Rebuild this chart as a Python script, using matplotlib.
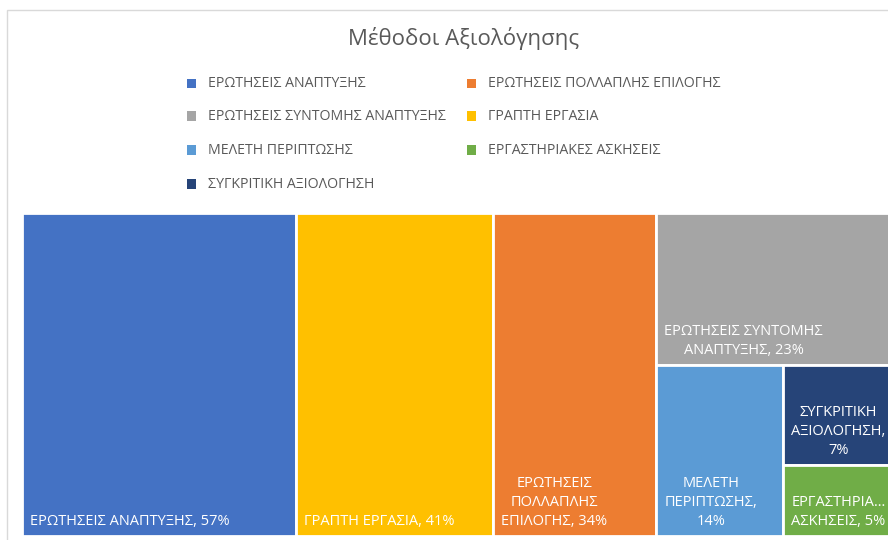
import matplotlib
matplotlib.use("Agg")
import matplotlib.pyplot as plt
from matplotlib.patches import Rectangle

categories = [
    "ΕΡΩΤΗΣΕΙΣ ΑΝΑΠΤΥΞΗΣ",
    "ΓΡΑΠΤΗ ΕΡΓΑΣΙΑ",
    "ΕΡΩΤΗΣΕΙΣ ΠΟΛΛΑΠΛΗΣ ΕΠΙΛΟΓΗΣ",
    "ΕΡΩΤΗΣΕΙΣ ΣΥΝΤΟΜΗΣ ΑΝΑΠΤΥΞΗΣ",
    "ΜΕΛΕΤΗ ΠΕΡΙΠΤΩΣΗΣ",
    "ΣΥΓΚΡΙΤΙΚΗ ΑΞΙΟΛΟΓΗΣΗ",
    "ΕΡΓΑΣΤΗΡΙΑΚΕΣ ΑΣΚΗΣΕΙΣ",
]
values = [57, 41, 34, 23, 14, 7, 5]
colors = ["#4472C4", "#FFC000", "#ED7D31", "#A5A5A5", "#5B9BD5", "#264478", "#70AD47"]
box_labels = [
    "ΕΡΩΤΗΣΕΙΣ ΑΝΑΠΤΥΞΗΣ, 57%",
    "ΓΡΑΠΤΗ ΕΡΓΑΣΙΑ, 41%",
    "ΕΡΩΤΗΣΕΙΣ\nΠΟΛΛΑΠΛΗΣ\nΕΠΙΛΟΓΗΣ, 34%",
    "ΕΡΩΤΗΣΕΙΣ ΣΥΝΤΟΜΗΣ\nΑΝΑΠΤΥΞΗΣ, 23%",
    "ΜΕΛΕΤΗ\nΠΕΡΙΠΤΩΣΗΣ,\n14%",
    "ΣΥΓΚΡΙΤΙΚΗ\nΑΞΙΟΛΟΓΗΣΗ,\n7%",
    "ΕΡΓΑΣΤΗΡΙΑ…\nΑΣΚΗΣΕΙΣ, 5%",
]
legend_order = [0, 2, 3, 1, 4, 6, 5]  # legend shown row-major in 2 columns
title = "Μέθοδοι Αξιολόγησης"

FONT = ["Open Sans", "DejaVu Sans"]


def worst(row, short):
    s = sum(row)
    return max(short * short * max(row) / (s * s), s * s / (short * short * min(row)))


def squarify(vals, x, y, w, h):
    total = sum(vals)
    areas = [v * w * h / total for v in vals]
    out = []
    while areas:
        short = min(w, h)
        row = [areas[0]]
        i = 1
        while i < len(areas) and worst(row + [areas[i]], short) <= worst(row, short):
            row.append(areas[i])
            i += 1
        s = sum(row)
        if w >= h:
            cw = s / h
            yy = y
            for a in row:
                rh = a / cw
                out.append((x, yy, cw, rh))
                yy += rh
            x += cw
            w -= cw
        else:
            rh = s / w
            xx = x
            for a in row:
                rw = a / rh
                out.append((xx, y, rw, rh))
                xx += rw
            y += rh
            h -= rh
        areas = areas[i:]
    return out


W, H = 888, 540
fig = plt.figure(figsize=(W / 100, H / 100), dpi=100)
fig.patch.set_facecolor("white")

# chart frame
fig.patches.append(Rectangle((7 / W, -0.1), 1.2, (H - 10) / H + 0.1, transform=fig.transFigure,
                             fill=False, edgecolor="#D9D9D9", linewidth=1.0))

fig.text(464 / W, 1 - 38 / H, title, ha="center", va="center", fontsize=16,
         color="#595959", family=FONT)

# legend (manual, two columns row-major)
col_x = [191.5, 471.5]
row_y = [83.5, 116, 150, 184]
for k, idx in enumerate(legend_order):
    r, c = divmod(k, 2)
    px, py = col_x[c], row_y[r]
    fig.patches.append(Rectangle(((px - 4.5) / W, 1 - (py + 4.5) / H), 9 / W, 9 / H,
                                 transform=fig.transFigure, facecolor=colors[idx],
                                 edgecolor="none"))
    fig.text((px + 16) / W, 1 - py / H, categories[idx], ha="left", va="center",
             fontsize=10.2, color="#595959", family=FONT)

# treemap
TW, TH = 870, 323
ax = fig.add_axes([22 / W, (H - 536) / H, TW / W, TH / H])
ax.set_xlim(0, TW)
ax.set_ylim(TH, 0)
ax.axis("off")
rects = squarify(values, 0, 0, TW, TH)
for (x, y, w, h), col, lab in zip(rects, colors, box_labels):
    ax.add_patch(Rectangle((x, y), w, h, facecolor=col, edgecolor="white", linewidth=2.0,
                           clip_on=False))
    ax.text(x + 8, y + h - 7, lab, ha="left", va="bottom", multialignment="center",
            fontsize=10.5, color="white", family=FONT, linespacing=1.35, clip_on=False)

fig.savefig("out.png", dpi=100)
